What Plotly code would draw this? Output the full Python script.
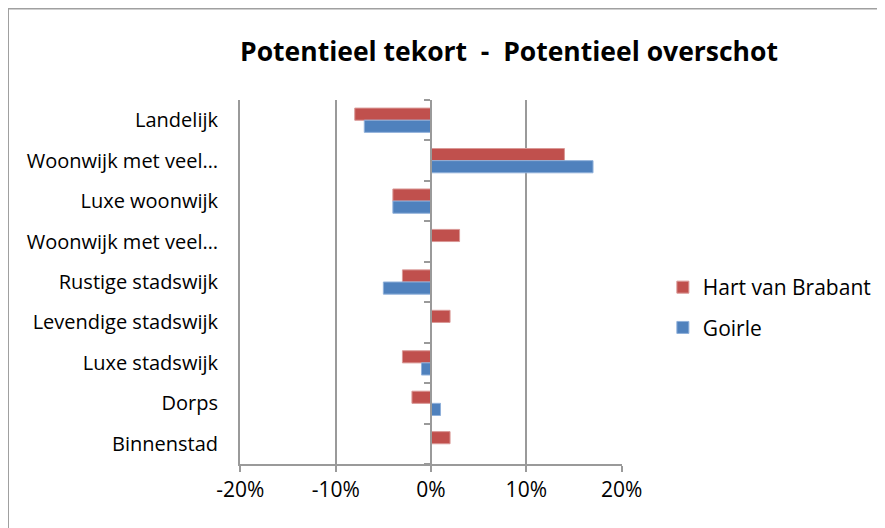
import plotly.graph_objects as go

categories = ["Landelijk", "Woonwijk met veel…", "Luxe woonwijk", "Woonwijk met veel…",
              "Rustige stadswijk", "Levendige stadswijk", "Luxe stadswijk", "Dorps", "Binnenstad"]
hart_van_brabant = [-0.08, 0.14, -0.04, 0.03, -0.03, 0.02, -0.03, -0.02, 0.02]
goirle = [-0.07, 0.17, -0.04, 0.0, -0.05, 0.0, -0.01, 0.01, 0.0]
x_ticks = [-0.2, -0.1, 0.0, 0.1, 0.2]
x_tick_text = ["-20%", "-10%", "0%", "10%", "20%"]

RED = "#C0504D"
BLUE = "#4F81BD"
GRID = "#9a9a9a"
FONT = "Open Sans, Noto Sans, sans-serif"

# index positions so the duplicate category names stay separate rows
ypos = list(range(len(categories)))
n = len(categories)

fig = go.Figure()
fig.add_trace(go.Bar(
    y=ypos, x=hart_van_brabant, orientation="h", name="Hart van Brabant",
    marker=dict(color=RED, line=dict(color="#d99896", width=1)),
    legendgroup="h", yaxis="y"))
fig.add_trace(go.Bar(
    y=ypos, x=goirle, orientation="h", name="Goirle",
    marker=dict(color=BLUE, line=dict(color="#8fb0da", width=1)),
    legendgroup="g", yaxis="y"))

W, H = 877, 520
L, T, PW, PH = 232, 92, 382, 364

fig.update_layout(
    width=W, height=H,
    margin=dict(l=L, r=W - L - PW, t=T, b=H - T - PH, autoexpand=False),
    paper_bgcolor="white", plot_bgcolor="white",
    barmode="group", bargap=0.4, bargroupgap=0.0,
    font=dict(family=FONT, size=20, color="black"),
    title=dict(text="<b>Potentieel tekort  -  Potentieel overschot</b>",
               xref="container", yref="container", x=501 / W, y=1 - 44 / H,
               xanchor="center", yanchor="middle",
               font=dict(family=FONT, size=26.5, color="black")),
    showlegend=True,
    legend=dict(x=1.107, y=0.43, xanchor="left", yanchor="middle",
                traceorder="grouped", tracegroupgap=10,
                font=dict(family=FONT, size=21), itemwidth=30,
                bgcolor="rgba(0,0,0,0)"),
    xaxis=dict(range=[-0.2004, 0.2004], tickvals=x_ticks, ticktext=x_tick_text,
               showgrid=True, gridcolor=GRID, gridwidth=2,
               zeroline=False, showline=True, linecolor=GRID, linewidth=2,
               ticks="outside", ticklen=6, tickcolor=GRID, tickwidth=2,
               tickfont=dict(family=FONT, size=21), automargin=False),
    yaxis=dict(range=[n - 0.5, -0.5], tickvals=ypos, ticktext=categories,
               showgrid=False, zeroline=False, showline=True,
               linecolor=GRID, linewidth=2, ticks="",
               ticklabelstandoff=16, tickfont=dict(family=FONT, size=20),
               automargin=False),
    yaxis2=dict(range=[0, n], dtick=1, tick0=0, overlaying="y", anchor="free",
                position=0.5, side="left", showgrid=False, zeroline=False,
                showline=True, linecolor=GRID, linewidth=2,
                ticks="outside", ticklen=6, tickcolor=GRID, tickwidth=2,
                showticklabels=False, automargin=False),
    shapes=[dict(type="rect", xref="paper", yref="paper",
                 x0=(0 - L) / PW, x1=1.75, y0=-0.3, y1=(PH + T - 0.5) / PH,
                 line=dict(color="#a0a0a0", width=2), fillcolor="rgba(0,0,0,0)",
                 layer="below")],
)
# invisible helper so the separator axis at 0 renders
fig.add_trace(go.Scatter(x=[0], y=[0], yaxis="y2", mode="markers",
                         marker=dict(opacity=0), showlegend=False, hoverinfo="skip"))

fig.write_html("out.html")
